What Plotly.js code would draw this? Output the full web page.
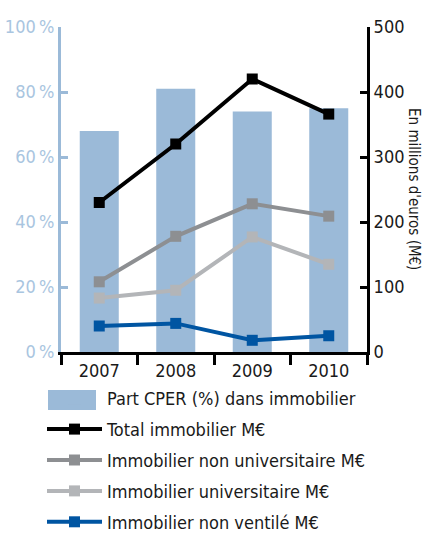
<!DOCTYPE html>
<html>
<head>
<meta charset="utf-8">
<script src="https://cdn.plot.ly/plotly-3.0.1.min.js"></script>
<style>html,body{margin:0;padding:0;background:#fff;}#chart{width:427px;height:533px;}</style>
</head>
<body>
<div id="chart"></div>
<script>
const years = ["2007", "2008", "2009", "2010"];
const partCPER = [68, 81, 74, 75];
const totalImmo = [230, 320, 420, 366];
const nonUniv = [108, 178, 228, 209];
const univ = [83, 95, 177, 135];
const nonVentile = [40, 44, 18, 25];
const pctTicks = [0, 20, 40, 60, 80, 100];
const pctLabels = ["0\u2009%", "20\u2009%", "40\u2009%", "60\u2009%", "80\u2009%", "100\u2009%"];
const meurTicks = [0, 100, 200, 300, 400, 500];

const FONT = '"Liberation Sans Narrow", "DejaVu Sans Condensed", "DejaVu Sans", Arial, sans-serif';
const BAR_COLOR = '#9bbad8';

function lineTrace(name, y, color, group) {
  return {
    type: 'scatter', mode: 'lines+markers', name: name, x: years, y: y, yaxis: 'y2',
    line: {color: color, width: 4},
    marker: {symbol: 'square', size: 11, color: color},
    legendgroup: group, hoverinfo: 'skip'
  };
}

const data = [
  {type: 'bar', name: 'Part CPER (%) dans immobilier', x: years, y: partCPER,
   marker: {color: BAR_COLOR}, legendgroup: 'a', hoverinfo: 'skip'},
  lineTrace('Total immobilier M€', totalImmo, '#000000', 'b'),
  lineTrace('Immobilier non universitaire M€', nonUniv, '#8d8f92', 'c'),
  lineTrace('Immobilier universitaire M€', univ, '#b3b5b8', 'd'),
  lineTrace('Immobilier non ventilé M€', nonVentile, '#0055a2', 'e')
];

const layout = {
  width: 427, height: 533,
  margin: {l: 61, r: 60, t: 27, b: 181, autoexpand: false},
  paper_bgcolor: '#fff', plot_bgcolor: '#fff',
  font: {family: FONT, size: 17, color: '#1a1a1a'},
  bargap: 0.49,
  showlegend: true,
  xaxis: {
    type: 'category', showline: true, linecolor: '#000', linewidth: 3,
    ticks: 'outside', tickson: 'boundaries', ticklen: 10, tickwidth: 3, tickcolor: '#000',
    tickfont: {family: FONT, size: 18, color: '#1a1a1a'}, showgrid: false, zeroline: false,
    fixedrange: true
  },
  yaxis: {
    range: [0, 100], tickvals: pctTicks, ticktext: pctLabels,
    showline: true, linecolor: BAR_COLOR, linewidth: 3,
    ticks: 'inside', ticklen: 7, tickwidth: 3, tickcolor: BAR_COLOR,
    tickfont: {family: FONT, size: 18, color: '#a9c5e0'},
    showgrid: false, zeroline: false, fixedrange: true
  },
  yaxis2: {
    range: [0, 500], tickvals: meurTicks, overlaying: 'y', side: 'right',
    showline: true, linecolor: '#000', linewidth: 3,
    ticks: 'inside', ticklen: 7, tickwidth: 3, tickcolor: '#000',
    tickfont: {family: FONT, size: 18, color: '#1a1a1a'},
    showgrid: false, zeroline: false, fixedrange: true
  },
  legend: {
    x: (42 - 61) / 306, xanchor: 'left', y: (352 - 380) / 325, yanchor: 'top',
    orientation: 'v', traceorder: 'grouped', tracegroupgap: 4.5, itemwidth: 55,
    font: {family: FONT, size: 18, color: '#1a1a1a'}, bgcolor: 'rgba(0,0,0,0)'
  },
  shapes: [{
    type: 'rect', xref: 'paper', yref: 'paper', layer: 'above',
    x0: (48 - 61) / 306, x1: (96 - 61) / 306,
    y0: (352 - 390) / 325, y1: (352 - 410) / 325,
    fillcolor: BAR_COLOR, line: {width: 0}
  }],
  annotations: [{
    text: "En millions d'euros (M€)", textangle: 90, xref: 'paper', yref: 'paper',
    x: 1.155, y: 0.5, xanchor: 'center', yanchor: 'middle', showarrow: false,
    font: {family: FONT, size: 15, color: '#1a1a1a'}
  }]
};

Plotly.newPlot('chart', data, layout, {displayModeBar: false, staticPlot: true});
</script>
</body>
</html>
